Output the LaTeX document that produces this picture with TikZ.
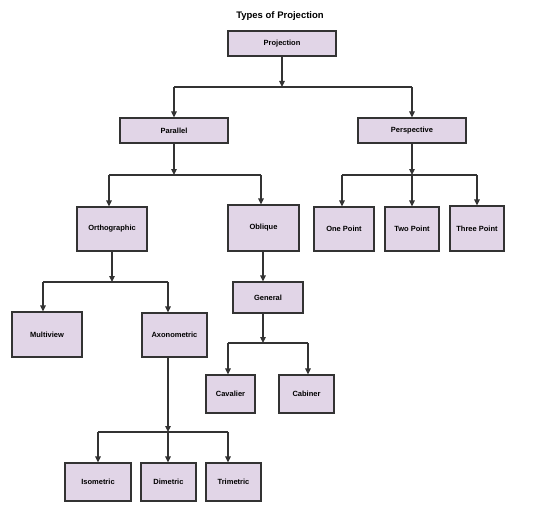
\documentclass[tikz,border=0pt]{standalone}
\usepackage{fontspec}
\setmainfont{Liberation Sans}
\usetikzlibrary{arrows.meta}
\definecolor{boxfill}{HTML}{E1D5E7}
\definecolor{boxline}{HTML}{333333}

\begin{document}
\begin{tikzpicture}[x=1pt,y=-1pt,
  box/.style={draw=boxline,line width=1.2pt,fill=boxfill,inner sep=0pt,
    font=\fontsize{7.5}{9}\selectfont\bfseries},
  arr/.style={-{Triangle[length=6pt,width=5.5pt]},line width=1.2pt,draw=boxline},
  bus/.style={line width=1.2pt,draw=boxline}]
\useasboundingbox (0,0) rectangle (560,511);
\node[font=\fontsize{9.5}{11}\selectfont\bfseries] (title) at (280,16) {Types of Projection};

% top level
\node[box,minimum width=108pt,minimum height=25pt] (proj) at (282,43.5) {Projection};
\node[box,minimum width=108pt,minimum height=25pt] (parallel) at (174,130.5) {Parallel};
\node[box,minimum width=108pt,minimum height=25pt] (persp) at (412,130.5) {Perspective};

% second level
\node[box,minimum width=70pt,minimum height=44pt] (ortho) at (112,229) {Orthographic};
\node[box,minimum width=71pt,minimum height=46pt] (oblique) at (263.5,228) {Oblique};
\node[box,minimum width=60pt,minimum height=44pt] (onept) at (344,229) {One Point};
\node[box,minimum width=54pt,minimum height=44pt] (twopt) at (412,229) {Two Point};
\node[box,minimum width=54pt,minimum height=45pt] (threept) at (477,228.5) {Three Point};

% third level
\node[box,minimum width=70pt,minimum height=45pt] (multiview) at (47,334.5) {Multiview};
\node[box,minimum width=65pt,minimum height=44pt] (axono) at (174.5,335) {Axonometric};
\node[box,minimum width=70pt,minimum height=31pt] (general) at (268,297.5) {General};
\node[box,minimum width=49pt,minimum height=38pt] (cavalier) at (230.5,394) {Cavalier};
\node[box,minimum width=55pt,minimum height=38pt] (cabiner) at (306.5,394) {Cabiner};

% bottom level
\node[box,minimum width=66pt,minimum height=38pt] (iso) at (98,482) {Isometric};
\node[box,minimum width=55pt,minimum height=38pt] (dim) at (168.5,482) {Dimetric};
\node[box,minimum width=55pt,minimum height=38pt] (tri) at (233.5,482) {Trimetric};

% bus points
\coordinate (b1) at (282,87);
\coordinate (b2) at (174,175);
\coordinate (b3) at (412,175);
\coordinate (b4) at (112,282);
\coordinate (b5) at (263,343);
\coordinate (b6) at (168,432);

% ends of the connectors on the boxes
\coordinate (orthoin) at ([xshift=-3pt]ortho.north);
\coordinate (obliquein) at ([xshift=-2.5pt]oblique.north);
\coordinate (obliqueout) at ([xshift=-0.5pt]oblique.south);
\coordinate (oneptin) at ([xshift=-2pt]onept.north);
\coordinate (multiin) at ([xshift=-4pt]multiview.north);
\coordinate (axonoin) at ([xshift=-6.5pt]axono.north);
\coordinate (axonoout) at ([xshift=-6.5pt]axono.south);
\coordinate (generalout) at ([xshift=-5pt]general.south);
\coordinate (cavin) at ([xshift=-2.5pt]cavalier.north);
\coordinate (cabin) at ([xshift=1.5pt]cabiner.north);
\coordinate (triin) at ([xshift=-5.5pt]tri.north);

% projection
\draw[arr] (proj) -- (b1);
\draw[bus] (parallel |- b1) -- (persp |- b1);
\draw[arr] (parallel |- b1) -- (parallel);
\draw[arr] (persp |- b1) -- (persp);

% parallel
\draw[arr] (parallel) -- (b2);
\draw[bus] (orthoin |- b2) -- (obliquein |- b2);
\draw[arr] (orthoin |- b2) -- (orthoin);
\draw[arr] (obliquein |- b2) -- (obliquein);

% perspective
\draw[arr] (persp) -- (b3);
\draw[bus] (oneptin |- b3) -- (threept.north |- b3);
\draw[arr] (oneptin |- b3) -- (oneptin);
\draw[arr] (b3) -- (twopt);
\draw[arr] (threept.north |- b3) -- (threept);

% orthographic
\draw[arr] (ortho) -- (b4);
\draw[bus] (multiin |- b4) -- (axonoin |- b4);
\draw[arr] (multiin |- b4) -- (multiin);
\draw[arr] (axonoin |- b4) -- (axonoin);

% oblique
\draw[arr] (obliqueout) -- (obliqueout |- general.north);
\draw[arr] (generalout) -- (b5);
\draw[bus] (cavin |- b5) -- (cabin |- b5);
\draw[arr] (cavin |- b5) -- (cavin);
\draw[arr] (cabin |- b5) -- (cabin);

% axonometric
\draw[arr] (axonoout) -- (b6);
\draw[bus] (iso.north |- b6) -- (triin |- b6);
\draw[arr] (iso.north |- b6) -- (iso);
\draw[arr] (b6) -- (b6 |- dim.north);
\draw[arr] (triin |- b6) -- (triin);
\end{tikzpicture}
\end{document}
